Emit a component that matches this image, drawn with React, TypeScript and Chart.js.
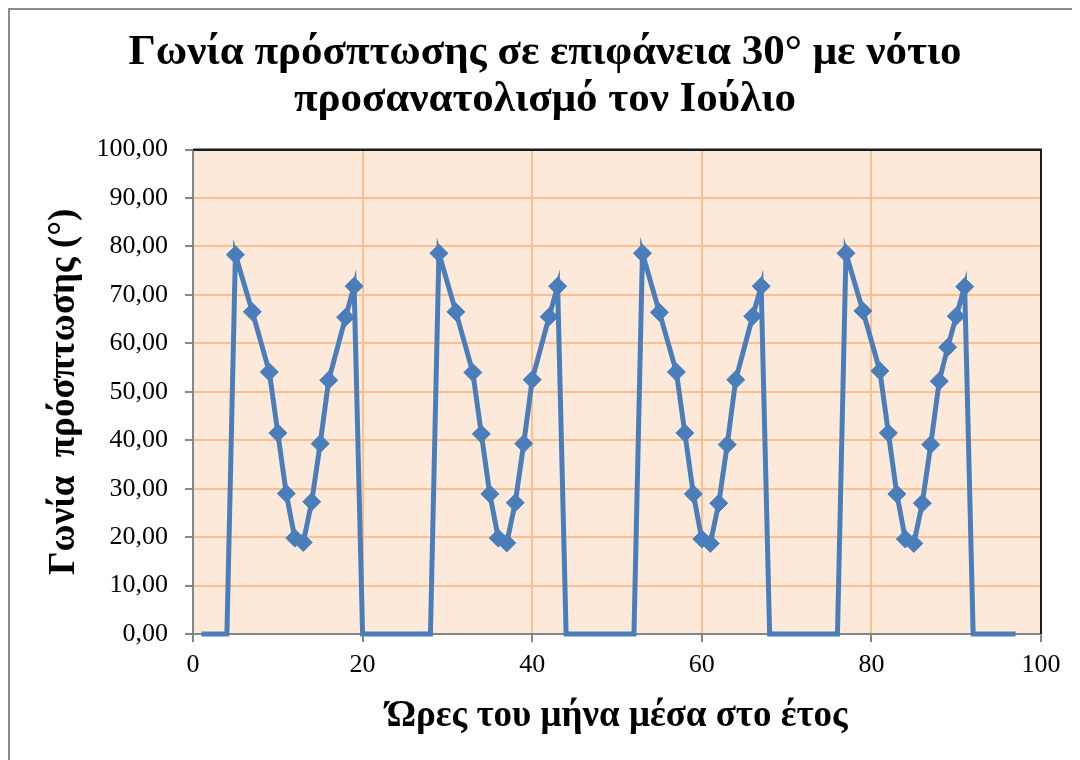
import React, { useEffect, useRef } from "react";
import { Chart, registerables } from "chart.js";

Chart.register(...registerables);

// Hours of the month (x) and incidence angle in degrees (y), four July days
const hours: number[] = [
  1, 2, 3, 4,
  5, 7, 9, 10, 11, 12, 13, 14, 15, 16, 18, 19,
  20, 21, 22, 23, 24, 25, 26, 27, 28,
  29, 31, 33, 34, 35, 36, 37, 38, 39, 40, 42, 43,
  44, 45, 46, 47, 48, 49, 50, 51, 52,
  53, 55, 57, 58, 59, 60, 61, 62, 63, 64, 66, 67,
  68, 69, 70, 71, 72, 73, 74, 75, 76,
  77, 79, 81, 82, 83, 84, 85, 86, 87, 88, 89, 90, 91,
  92, 93, 94, 95, 96, 97,
];

const incidenceAngle: number[] = [
  0, 0, 0, 0,
  78.3, 66.5, 54.1, 41.5, 29.0, 19.8, 18.9, 27.3, 39.3, 52.4, 65.4, 71.8,
  0, 0, 0, 0, 0, 0, 0, 0, 0,
  78.6, 66.5, 54.0, 41.3, 28.9, 19.8, 18.8, 27.1, 39.3, 52.5, 65.5, 71.8,
  0, 0, 0, 0, 0, 0, 0, 0, 0,
  78.6, 66.4, 54.1, 41.5, 28.9, 19.6, 18.7, 27.0, 39.1, 52.5, 65.6, 71.8,
  0, 0, 0, 0, 0, 0, 0, 0, 0,
  78.6, 66.7, 54.3, 41.5, 28.9, 19.6, 18.7, 27.0, 39.1, 52.2, 59.2, 65.6, 71.7,
  0, 0, 0, 0, 0, 0,
];

const xTickValues: number[] = [0, 20, 40, 60, 80, 100];
const yTickValues: number[] = [0, 10, 20, 30, 40, 50, 60, 70, 80, 90, 100];

const titleLines: string[] = [
  "Γωνία πρόσπτωσης σε επιφάνεια 30° με νότιο",
  "προσανατολισμό τον Ιούλιο",
];
const xAxisTitle = "Ώρες του μήνα μέσα στο έτος";
const yAxisTitle = "Γωνία  πρόσπτωσης (°)";

const FONT = "'Liberation Serif', 'Times New Roman', serif";
const LINE_BLUE = "#4A7EBB";
const GRID_ORANGE = "#FAC08F";
const PLOT_BG = "#FDE9D9";
const AXIS_GREY = "#868686";

const plotFrame = {
  id: "plotFrame",
  beforeDraw(chart: any) {
    const { ctx, chartArea } = chart;
    ctx.save();
    ctx.fillStyle = PLOT_BG;
    ctx.fillRect(chartArea.left, chartArea.top, chartArea.width, chartArea.height);
    ctx.restore();
  },
  beforeDatasetsDraw(chart: any) {
    const { ctx, chartArea } = chart;
    ctx.save();
    ctx.strokeStyle = "#1a1a1a";
    ctx.lineWidth = 2;
    ctx.beginPath();
    ctx.moveTo(chartArea.left, chartArea.top);
    ctx.lineTo(chartArea.right, chartArea.top);
    ctx.lineTo(chartArea.right, chartArea.bottom);
    ctx.stroke();
    ctx.restore();
  },
};

export default function App() {
  const canvasRef = useRef<HTMLCanvasElement | null>(null);

  useEffect(() => {
    document.documentElement.style.overflow = "hidden";
    const canvas = canvasRef.current;
    if (!canvas) return;

    const chart = new Chart(canvas, {
      type: "line",
      data: {
        datasets: [
          {
            data: hours.map((h, i) => ({ x: h, y: incidenceAngle[i] })),
            borderColor: LINE_BLUE,
            backgroundColor: LINE_BLUE,
            borderWidth: 5,
            pointStyle: "rectRot",
            pointRadius: (c: any) => (c.raw && c.raw.y > 0 ? 9 : 0),
            pointBorderWidth: 1,
            pointBorderColor: LINE_BLUE,
            pointBackgroundColor: LINE_BLUE,
            tension: 0,
            clip: 8,
            xAxisID: "x",
            yAxisID: "y",
          },
        ],
      },
      plugins: [plotFrame],
      options: {
        animation: false,
        responsive: false,
        layout: { padding: 0 },
        plugins: {
          legend: { display: false },
          tooltip: { enabled: false },
          title: {
            display: true,
            text: titleLines,
            color: "#000",
            font: { family: FONT, size: 43, weight: "bold", lineHeight: 1.1 },
            padding: { top: 19, bottom: 26 },
          },
        },
        scales: {
          x: {
            type: "linear",
            min: 0,
            max: 100,
            afterBuildTicks: (s: any) => {
              s.ticks = xTickValues.map((v) => ({ value: v }));
            },
            afterFit: (s: any) => {
              s.height = 126;
            },
            grid: {
              color: (c: any) => (c.tick && c.tick.value === 100 ? "#1a1a1a" : GRID_ORANGE),
              tickColor: AXIS_GREY,
              lineWidth: 2,
              tickLength: 8,
            },
            border: { color: AXIS_GREY, width: 2 },
            ticks: {
              color: "#000",
              font: { family: FONT, size: 26 },
              padding: 8,
              maxRotation: 0,
            },
            title: {
              display: true,
              text: xAxisTitle,
              color: "#000",
              font: { family: FONT, size: 37, weight: "bold", lineHeight: 1.2 },
              padding: { top: 0, bottom: 21 },
            },
          },
          y: {
            type: "linear",
            min: 0,
            max: 100,
            afterBuildTicks: (s: any) => {
              s.ticks = yTickValues.map((v) => ({ value: v }));
            },
            afterFit: (s: any) => {
              s.width = 183;
            },
            grid: {
              color: (c: any) => (c.tick && c.tick.value === 100 ? "#1a1a1a" : GRID_ORANGE),
              tickColor: AXIS_GREY,
              lineWidth: 2,
              tickLength: 8,
            },
            border: { color: AXIS_GREY, width: 2 },
            ticks: {
              color: "#000",
              font: { family: FONT, size: 26 },
              padding: 17,
              callback: (v: any) => Number(v).toFixed(2).replace(".", ","),
            },
            title: {
              display: true,
              text: yAxisTitle,
              color: "#000",
              font: { family: FONT, size: 37, weight: "bold", lineHeight: 1.2 },
              padding: { top: 32, bottom: 0 },
            },
          },
          // empty spacer on the right so the plot ends short of the canvas edge
          spacer: {
            type: "linear",
            position: "right",
            display: true,
            grid: { display: false, drawTicks: false },
            border: { display: false },
            ticks: { display: false },
            afterFit: (s: any) => {
              s.width = 39;
            },
          },
        },
      },
    } as any);

    return () => {
      chart.destroy();
    };
  }, []);

  return (
    <div
      style={{
        width: 1072,
        height: 752,
        boxSizing: "border-box",
        borderTop: "2px solid #8c8c8c",
        borderLeft: "2px solid #8c8c8c",
        background: "#fff",
      }}
    >
      <canvas ref={canvasRef} width={1070} height={750} style={{ display: "block" }} />
    </div>
  );
}
